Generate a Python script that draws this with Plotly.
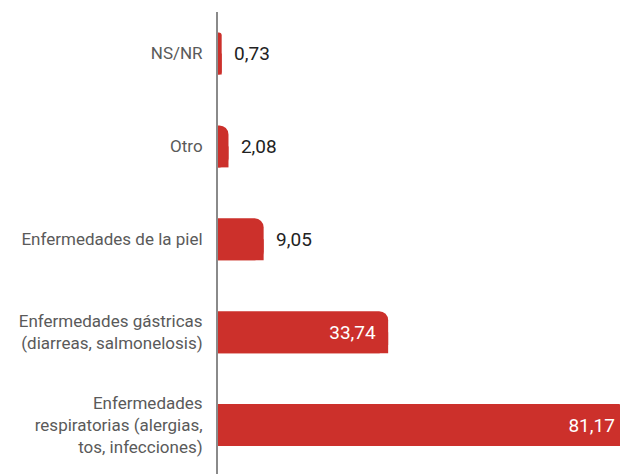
import plotly.graph_objects as go

categories = [
    "NS/NR",
    "Otro",
    "Enfermedades de la piel",
    "Enfermedades gástricas<br>(diarreas, salmonelosis)",
    "Enfermedades<br>respiratorias (alergias,<br>tos, infecciones)",
]
values = [0.73, 2.08, 9.05, 33.74, 81.17]
text_positions = ["outside", "outside", "outside", "inside", "inside"]
text_colors = ["#222222", "#222222", "#222222", "#ffffff", "#ffffff"]

RED = "#CC302B"

fig = go.Figure()

# square lower half (keeps bottom-right corner square)
fig.add_trace(go.Bar(
    y=categories, x=values, orientation="h",
    width=0.226, offset=0,
    marker=dict(color=RED, line=dict(width=0)),
    hoverinfo="skip", showlegend=False,
))

# main bars with rounded end
fig.add_trace(go.Bar(
    y=categories, x=values, orientation="h",
    width=0.452,
    marker=dict(color=RED, cornerradius=9, line=dict(width=0)),
    texttemplate=["\u00a0\u00a0%{x:.2f}" if p == "outside" else "%{x:.2f}\u00a0\u00a0" for p in text_positions],
    textposition=text_positions,
    textfont=dict(family="Roboto", size=19, color=text_colors),
    insidetextanchor="end",
    cliponaxis=False,
    showlegend=False,
))

fig.update_layout(
    width=620, height=466,
    margin=dict(l=210, r=0, t=4, b=0),
    paper_bgcolor="white", plot_bgcolor="white",
    barmode="overlay",
    separators=",.",
    xaxis=dict(visible=False, range=[0, 81.3], fixedrange=True),
    yaxis=dict(
        type="category",
        categoryorder="array", categoryarray=categories,
        range=[4.527, -0.447],
        showline=True, linecolor="#8a8a8a", linewidth=2,
        showgrid=False, zeroline=False,
        ticks="", ticklabelstandoff=10,
        tickfont=dict(family="Roboto", size=17, color="#5a5a5a"),
    ),
    font=dict(family="Roboto"),
)

fig.write_html("out.html")
